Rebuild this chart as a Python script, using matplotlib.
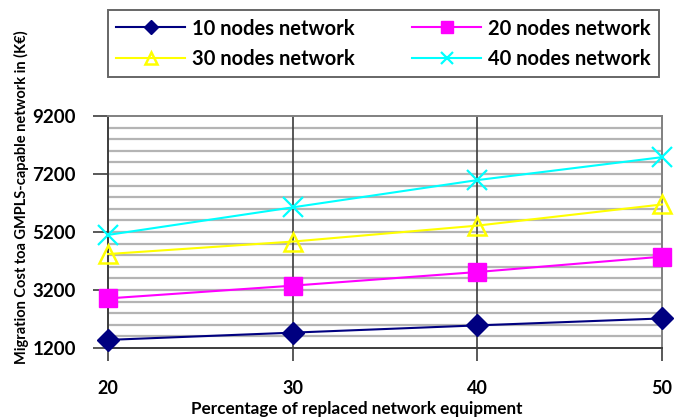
import matplotlib.pyplot as plt
import numpy as np

plt.rcParams['font.family'] = ['Lato', 'DejaVu Sans']

# share of replaced equipment (%)
percentages = [20, 30, 40, 50]

# migration cost in K-euro per network size
cost_10_nodes = [1480, 1730, 1980, 2220]
cost_20_nodes = [2910, 3350, 3820, 4350]
cost_30_nodes = [4440, 4870, 5420, 6150]
cost_40_nodes = [5100, 6050, 6990, 7780]

series_labels = ["10 nodes network", "20 nodes network", "30 nodes network", "40 nodes network"]
y_ticks = [1200, 3200, 5200, 7200, 9200]

fig = plt.figure(figsize=(6.81, 4.2), dpi=100)
ax = fig.add_axes([0.1586, 0.1714, 0.8135, 0.5524])

ax.set_xlim(20, 50)
ax.set_ylim(1200, 9200)

# thin horizontal grid every 400, dark vertical grid at the x ticks
for y in np.arange(1600, 9200, 400):
    ax.axhline(y, color="#b4b4b4", lw=1.6, zorder=1)
for x in percentages[1:-1]:
    ax.axvline(x, color="#3c3c3c", lw=1.2, zorder=1)

style = dict(lw=1.5, zorder=3, clip_on=False)
l10, = ax.plot(percentages, cost_10_nodes, color="#000080", marker="D", ms=11,
               label=series_labels[0], **style)
l20, = ax.plot(percentages, cost_20_nodes, color="#ff00ff", marker="s", ms=12.5,
               label=series_labels[1], **style)
l30, = ax.plot(percentages, cost_30_nodes, color="#ffff00", marker="^", ms=13,
               mfc="none", mew=1.8, label=series_labels[2], **style)
l40, = ax.plot(percentages, cost_40_nodes, color="#00ffff", marker="x", ms=14,
               mew=1.6, label=series_labels[3], **style)

ax.set_xticks(percentages)
ax.set_yticks(y_ticks)
ax.tick_params(axis="x", direction="out", length=9, width=1.2, color="#3c3c3c",
               pad=14, labelsize=13)
ax.tick_params(axis="y", direction="out", length=11, width=1.2, color="#3c3c3c",
               pad=12, labelsize=13.5)
for lbl in ax.get_xticklabels() + ax.get_yticklabels():
    lbl.set_fontweight("bold")

for side in ["left", "bottom"]:
    ax.spines[side].set_color("#3c3c3c")
    ax.spines[side].set_linewidth(1.4)
for side in ["top", "right"]:
    ax.spines[side].set_color("#808080")
    ax.spines[side].set_linewidth(1.4)

fig.text(0.524, 0.026, "Percentage of replaced network equipment",
         ha="center", va="center", fontsize=12.3, fontweight="bold")
fig.text(0.032, 0.53, "Migration Cost toa GMPLS-capable network in (K€)",
         rotation=90, ha="center", va="center", fontsize=10.5, fontweight="bold")

# legend filled column-wise, so order gives rows (10, 20) and (30, 40)
leg = fig.legend([l10, l30, l20, l40],
                 [series_labels[0], series_labels[2], series_labels[1], series_labels[3]],
                 loc="upper left", bbox_to_anchor=(0.1586, 0.826, 0.809, 0.15),
                 mode="expand", ncol=2, frameon=True, fancybox=False,
                 borderaxespad=0, handlelength=3.4, handletextpad=0.35,
                 borderpad=0.42, labelspacing=0.5, markerscale=0.65,
                 prop=dict(size=14.5, weight="bold"))
leg.get_frame().set_edgecolor("#404040")
leg.get_frame().set_linewidth(1.4)

fig.savefig("out.png", dpi=100)
